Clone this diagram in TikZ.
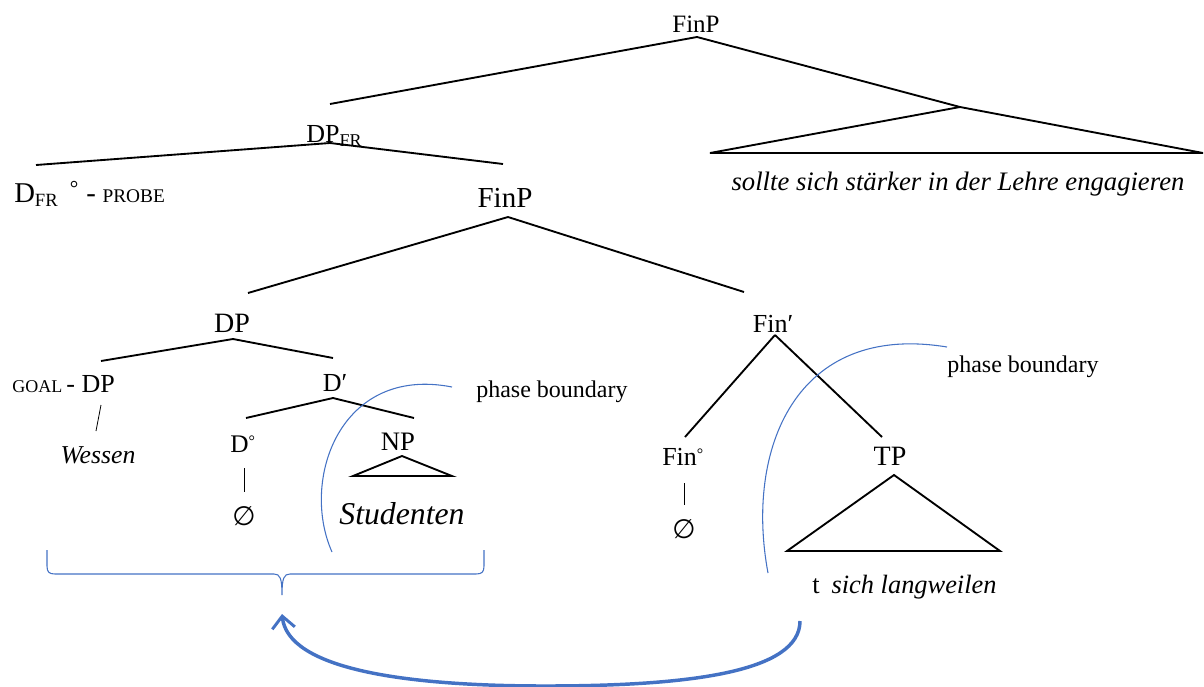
\documentclass[tikz,border=0pt]{standalone}
\usepackage{fontspec}
\setmainfont{Liberation Serif}
\newfontfamily\djv{DejaVu Sans}
\usetikzlibrary{arrows.meta}
\definecolor{pblue}{RGB}{68,114,196}
\newcommand{\fsz}[1]{\fontsize{#1}{#1}\selectfont}
\begin{document}
\begin{tikzpicture}[x=0.75pt,y=-0.75pt,
  lbl/.style={inner sep=0pt, anchor=base},
  lblw/.style={inner sep=0pt, anchor=base west},
  tree/.style={line width=1.4pt, line join=miter},
  thin/.style={line width=0.6pt},
  phase/.style={draw=pblue, line width=0.8pt},
  move/.style={draw=pblue, line width=2.6pt, -{Straight Barb[length=9pt,width=17pt,line width=2.2pt]}}]
\useasboundingbox (0,0) rectangle (1204,686);

% top FinP
\node[lbl, font=\fsz{18.75}] (finp) at (696,32) {FinP};
\coordinate (finpA) at (697,37);
\coordinate (dpfrT) at (330,104);
\coordinate (triA) at (960,107);
\coordinate (triL) at (710,153);
\coordinate (triR) at (1203,153);
\draw[tree] (finpA) -- (dpfrT);
\draw[tree] (finpA) -- (triA);
\draw[tree] (triL) -- (triA) -- (triR) -- cycle;
\node[lbl, font=\fsz{20}\itshape] (sollte) at (958,190) {sollte sich stärker in der Lehre engagieren};

% DP_FR
\node[lblw, font=\fsz{19.5}] (dpfr) at (306,142) {DP\raisebox{-3pt}{\fsz{13.5}FR}};
\coordinate (dpfrA) at (330,143);
\coordinate (dfrT) at (36,165);
\coordinate (finpTT) at (503,164);
\draw[tree] (dpfrA) -- (dfrT);
\draw[tree] (dpfrA) -- (finpTT);
\node[lblw, font=\fsz{21.5}] (dfr) at (14,202) {D\raisebox{-3pt}{\fsz{14}FR}\hspace{9pt}\raisebox{5pt}{\fsz{16}°}\hspace{6pt}-\hspace{5pt}{\fsz{14.5}PROBE}};

% lower FinP
\node[lbl, font=\fsz{21.75}] (finp2) at (505,207) {FinP};
\coordinate (finp2A) at (508,217);
\coordinate (dpT) at (248,293);
\coordinate (finbarT) at (744,292);
\draw[tree] (finp2A) -- (dpT);
\draw[tree] (finp2A) -- (finbarT);

% DP
\node[lbl, font=\fsz{21}] (dp) at (232,332) {DP};
\coordinate (dpA) at (233,339);
\coordinate (goalT) at (101,361);
\coordinate (dbarT) at (333,358);
\draw[tree] (dpA) -- (goalT);
\draw[tree] (dpA) -- (dbarT);
\node[lblw, font=\fsz{19.5}] (goal) at (12,392) {{\fsz{13.5}GOAL}\hspace{3pt}-\hspace{5pt}DP};
\coordinate (sl1) at (101,405);
\coordinate (sl2) at (96,431);
\draw[thin] (sl1) -- (sl2);
\node[lbl, font=\fsz{19.3}\itshape] (wessen) at (98,463) {Wessen};

% D'
\node[lbl, font=\fsz{19.5}] (dbar) at (335,391) {D′};
\coordinate (dbarA) at (333,398);
\coordinate (d0T) at (246,418);
\coordinate (npT) at (414,418);
\draw[tree] (dbarA) -- (d0T);
\draw[tree] (dbarA) -- (npT);
\node[lblw, font=\fsz{19}] (d0) at (230,452) {D\raisebox{4pt}{\fsz{12}°}};
\coordinate (v1a) at (244,468);
\coordinate (v1b) at (244,492);
\draw[thin] (v1a) -- (v1b);
\node[lbl, font=\fsz{20}\djv] (null1) at (244,525) {∅};
\node[lbl, font=\fsz{20}] (np) at (398,450) {NP};
\coordinate (npA) at (402,456);
\coordinate (npL) at (353,476);
\coordinate (npR) at (452,476);
\draw[tree] (npL) -- (npA) -- (npR) -- cycle;
\node[lbl, font=\fsz{23.8}\itshape] (stud) at (402,524) {Studenten};

% phase boundary 1
\coordinate (pb1s) at (452,387);
\coordinate (pb1e) at (332,552);
\draw[phase] (pb1s) .. controls (340,365) and (300,480) .. (pb1e);
\node[lblw, font=\fsz{18}] (pb1) at (476,397) {phase boundary};

% brace
\coordinate (brL) at (47,550);
\coordinate (brR) at (484,550);
\coordinate (brT) at (282,595);
\draw[phase] (brL) -- (47,566) .. controls (47,572) and (49,574) .. (55,574) -- (274,574)
  .. controls (280,574) and (282,578) .. (brT)
  .. controls (282,578) and (284,574) .. (290,574) -- (476,574)
  .. controls (482,574) and (484,572) .. (484,566) -- (brR);

% Fin'
\node[lbl, font=\fsz{19.5}] (finbar) at (773,332) {Fin′};
\coordinate (finbarA) at (775,335);
\coordinate (fin0T) at (685,437);
\coordinate (tpT) at (882,437);
\draw[tree] (finbarA) -- (fin0T);
\draw[tree] (finbarA) -- (tpT);
\node[lblw, font=\fsz{19.5}] (fin0) at (662,465) {Fin\raisebox{4pt}{\fsz{12}°}};
\coordinate (v2a) at (684,483);
\coordinate (v2b) at (684,505);
\draw[thin] (v2a) -- (v2b);
\node[lbl, font=\fsz{20}\djv] (null2) at (684,538) {∅};
\node[lbl, font=\fsz{21}] (tp) at (890,465) {TP};
\coordinate (tpA) at (894,475);
\coordinate (tpL) at (787,551);
\coordinate (tpR) at (1000,551);
\draw[tree] (tpL) -- (tpA) -- (tpR) -- cycle;
\node[lblw, font=\fsz{19.8}] (tsich) at (812,593) {t\hspace{9pt}\textit{sich langweilen}};

% phase boundary 2
\coordinate (pb2s) at (947,347);
\coordinate (pb2e) at (768,573);
\draw[phase] (pb2s) .. controls (795,322) and (745,450) .. (pb2e);
\node[lblw, font=\fsz{18}] (pb2) at (947,372) {phase boundary};

% movement arrow
\coordinate (arrS) at (800,621);
\coordinate (arrE) at (282,614);
\draw[move] (arrS) .. controls (800,672) and (690,686) .. (545,686)
  .. controls (400,686) and (288,668) .. (arrE);
\end{tikzpicture}
\end{document}
